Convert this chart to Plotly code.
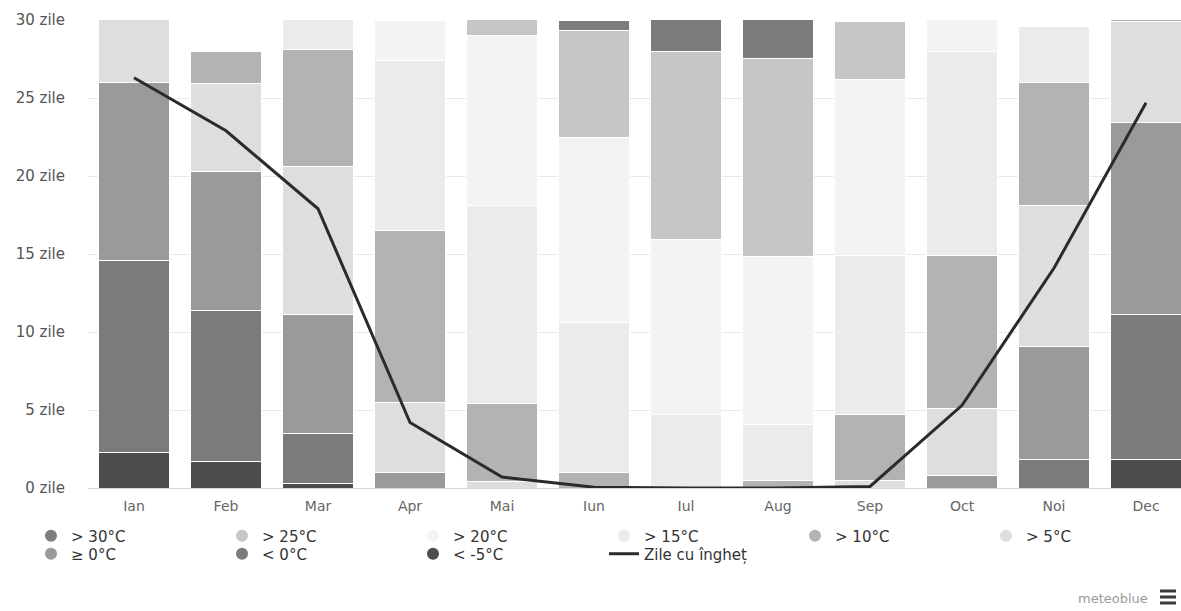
import plotly.graph_objects as go

months = ["Ian", "Feb", "Mar", "Apr", "Mai", "Iun", "Iul", "Aug", "Sep", "Oct", "Noi", "Dec"]

below_m5 = [2.3, 1.7, 0.3, 0, 0, 0, 0, 0, 0, 0, 0, 1.8]
below_0 = [12.3, 9.7, 3.2, 0, 0, 0, 0, 0, 0, 0, 1.8, 9.3]
above_0 = [11.4, 8.9, 7.6, 1.0, 0, 0, 0, 0, 0, 0.8, 7.3, 12.3]
above_5 = [5.0, 5.6, 9.5, 4.5, 0.4, 0, 0, 0, 0.5, 4.3, 9.0, 6.5]
above_10 = [0, 2.1, 7.5, 11.0, 5.0, 1.0, 0, 0.45, 4.2, 9.8, 7.9, 1.1]
above_15 = [0, 0, 2.9, 10.9, 12.7, 9.6, 4.7, 3.6, 10.2, 13.1, 3.6, 0]
above_20 = [0, 0, 0, 2.6, 10.9, 11.9, 11.2, 10.8, 11.3, 3.0, 0, 0]
above_25 = [0, 0, 0, 0, 2.0, 6.8, 12.1, 12.7, 3.7, 0, 0, 0]
above_30 = [0, 0, 0, 0, 0, 0.7, 3.0, 3.45, 0.1, 0, 0, 0]

frost_days = [26.3, 22.9, 17.9, 4.2, 0.7, 0.05, 0, 0, 0.1, 5.3, 14.1, 24.7]

y_ticks = [0, 5, 10, 15, 20, 25, 30]
y_tick_labels = [f"{v} zile" for v in y_ticks]

# stacking order bottom -> top
series = [
    ("< -5°C", below_m5, "#4d4d4d"),
    ("< 0°C", below_0, "#7b7b7b"),
    ("≥ 0°C", above_0, "#9a9a9a"),
    ("> 5°C", above_5, "#dedede"),
    ("> 10°C", above_10, "#b3b3b3"),
    ("> 15°C", above_15, "#ebebeb"),
    ("> 20°C", above_20, "#f3f3f3"),
    ("> 25°C", above_25, "#c6c6c6"),
    ("> 30°C", above_30, "#7c7c7c"),
]
legend_row1 = ["> 30°C", "> 25°C", "> 20°C", "> 15°C", "> 10°C", "> 5°C"]
legend_row2 = ["≥ 0°C", "< 0°C", "< -5°C"]
color_of = {n: c for n, _, c in series}

fig = go.Figure()
for name, vals, col in series:
    fig.add_trace(go.Bar(
        x=months, y=vals, name=name, showlegend=False,
        marker=dict(color=col, line=dict(color="white", width=1)),
        width=0.78,
    ))

for row, lg in ((legend_row1, "legend"), (legend_row2, "legend2")):
    for name in row:
        fig.add_trace(go.Scatter(
            x=[None], y=[None], mode="markers", name=name, legend=lg,
            marker=dict(symbol="circle", size=12, color=color_of[name]),
        ))

fig.add_trace(go.Scatter(
    x=months, y=frost_days, mode="lines", name="Zile cu îngheț", legend="legend2",
    line=dict(color="#2b2b2b", width=3),
))

font_family = "DejaVu Sans, Verdana, sans-serif"
L, T, B, W, H = 88, 20, 123, 1181, 611
plot_w = W - L
plot_h = H - T - B


def px_x(px):
    return (px - L) / plot_w


def px_y(py):
    return (H - B - py) / plot_h


legend_common = dict(
    orientation="h", xanchor="left", yanchor="middle",
    font=dict(size=15, color="#333333", family=font_family),
    entrywidth=146, entrywidthmode="pixels",
    itemwidth=30, traceorder="normal",
    bgcolor="rgba(0,0,0,0)",
)

fig.update_layout(
    width=W, height=H,
    barmode="stack",
    margin=dict(l=L, r=0, t=T, b=B),
    paper_bgcolor="white", plot_bgcolor="white",
    font=dict(family=font_family, size=12, color="#555555"),
    showlegend=True,
    legend=dict(x=px_x(31), y=px_y(536), **legend_common),
    legend2=dict(x=px_x(31), y=px_y(554), **legend_common),
    xaxis=dict(
        range=[-0.5, 11.38], showgrid=False, zeroline=False,
        showline=True, linecolor="#d8d8d8", linewidth=1,
        tickfont=dict(size=14, color="#666666"), ticks="",
        ticklabelstandoff=5,
    ),
    yaxis=dict(
        range=[0, 30], tickvals=y_ticks, ticktext=y_tick_labels,
        showgrid=True, gridcolor="#e8e8e8", gridwidth=1, zeroline=False,
        tickfont=dict(size=15, color="#555555"), ticks="",
        ticklabelstandoff=22,
    ),
    annotations=[
        dict(text="meteoblue", x=px_x(1150), y=px_y(598), xref="paper", yref="paper",
             showarrow=False, xanchor="right", yanchor="middle",
             font=dict(size=13, color="#9a9a9a", family=font_family)),
    ],
)

# hamburger menu icon (three bars)
for yy in (591, 597, 603):
    fig.add_shape(type="line", xref="paper", yref="paper",
                  x0=px_x(1160), x1=px_x(1176), y0=px_y(yy), y1=px_y(yy),
                  line=dict(color="#3a3a3a", width=3))

fig.write_html("out.html", config={"displayModeBar": False},
               post_script="document.body.style.margin='0px';")
